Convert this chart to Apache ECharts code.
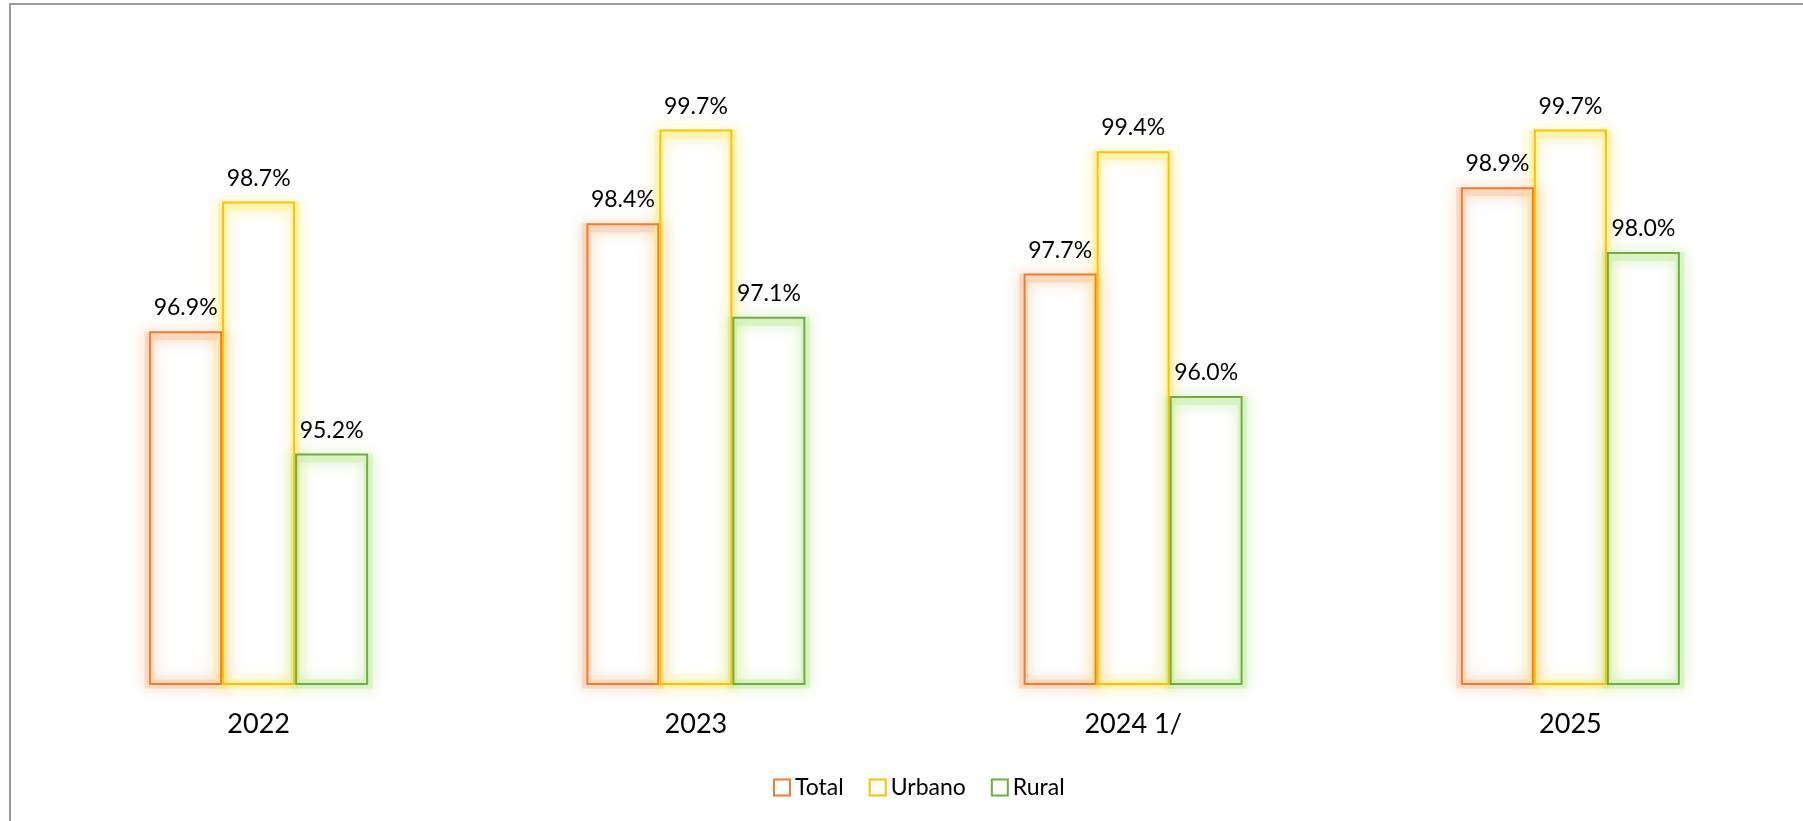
<!DOCTYPE html>
<html>
<head>
<meta charset="utf-8">
<script src="https://cdn.jsdelivr.net/npm/echarts@6/dist/echarts.min.js"></script>
<style>
  html, body { margin: 0; padding: 0; background: #fff; }
  #chart { width: 1803px; height: 821px; }
</style>
</head>
<body>
<div id="chart"></div>
<script>
// years on the x axis
const years = ['2022', '2023', '2024 1/', '2025']

// coverage in %
const total = [96.9, 98.4, 97.7, 98.9]
const urbano = [98.7, 99.7, 99.4, 99.7]
const rural = [95.2, 97.1, 96.0, 98.0]

const font = 'Lato'

// outlined bar with its value on top
const makeSeries = (name, data, line) => {
    return {
        name: name,
        type: 'bar',
        xAxisIndex: 0,
        data: data,
        barWidth: 73,
        barGap: '0%',
        z: 3,
        itemStyle: {
            color: 'rgba(255,255,255,0)',
            borderColor: line,
            borderWidth: 2
        },
        label: {
            show: true,
            position: 'top',
            distance: 12,
            fontFamily: font,
            fontSize: 23,
            color: '#000',
            formatter: p => p.value.toFixed(1) + '%'
        }
    }
}

// soft glow drawn behind the outline, on a twin hidden axis
// (wider by the band width, with negative gap, so it straddles the outline)
const makeGlow = (name, data, band, glow) => {
    return {
        name: name + ' glow',
        type: 'bar',
        xAxisIndex: 1,
        data: data,
        barWidth: 82,
        barGap: '-10.98%',
        z: 1,
        silent: true,
        itemStyle: {
            color: 'rgba(255,255,255,0)',
            borderColor: band,
            borderWidth: 9,
            shadowBlur: 14,
            shadowColor: glow
        }
    }
}

let option = {
    backgroundColor: '#fff',
    animation: false,
    graphic: [{
        type: 'rect',
        shape: { x: 10, y: 4, width: 1900, height: 900 },
        style: { fill: 'none', stroke: '#9a9a9a', lineWidth: 2 },
        z: -1
    }],
    grid: {
        left: 40,
        right: 14,
        top: 108,
        bottom: 137
    },
    legend: {
        left: 768,
        top: 771,
        icon: 'rect',
        itemWidth: 16,
        itemHeight: 16,
        itemGap: 25,
        itemStyle: { color: '#fff' },
        textStyle: { fontFamily: font, fontSize: 23, color: '#000' },
        data: ['Total', 'Urbano', 'Rural']
    },
    xAxis: [{
        type: 'category',
        data: years,
        axisLine: { show: false },
        axisTick: { show: false },
        axisLabel: {
            margin: 27,
            fontFamily: font,
            fontSize: 27,
            color: '#000'
        }
    }, {
        type: 'category',
        data: years,
        show: false
    }],
    yAxis: {
        type: 'value',
        min: 92,
        max: 100,
        show: false,
        splitLine: { show: false }
    },
    series: [
        makeGlow('Total', total, 'rgba(248,195,160,0.5)', 'rgba(246,175,130,1)'),
        makeGlow('Urbano', urbano, 'rgba(255,238,140,0.5)', 'rgba(255,232,100,1)'),
        makeGlow('Rural', rural, 'rgba(200,238,165,0.5)', 'rgba(180,230,135,1)'),
        makeSeries('Total', total, '#ED7D31'),
        makeSeries('Urbano', urbano, '#FFC000'),
        makeSeries('Rural', rural, '#70AD47')
    ]
}

let chart = echarts.init(document.getElementById('chart'))
chart.setOption(option)
</script>
</body>
</html>
